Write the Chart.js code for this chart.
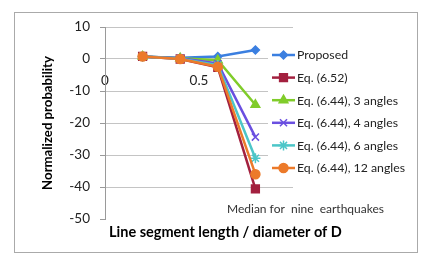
<!DOCTYPE html>
<html>
<head>
<meta charset="utf-8">
<script src="https://cdn.jsdelivr.net/npm/chart.js@4.4.1/dist/chart.umd.min.js"></script>
<style>
  html, body { margin: 0; padding: 0; background: #fff; }
  #wrap { width: 436px; height: 266px; }
</style>
</head>
<body>
<div id="wrap"><canvas id="chart" width="436" height="266"></canvas></div>
<script>
// values
const xValues = [0.2, 0.4, 0.6, 0.8];
const proposed = [0.7, 0.4, 0.8, 2.8];
const eq652 = [0.8, 0.0, -2.6, -40.6];
const eq644_3 = [0.8, 0.2, -0.4, -14.3];
const eq644_4 = [0.8, 0.2, -1.4, -24.4];
const eq644_6 = [0.8, 0.1, -1.9, -31.0];
const eq644_12 = [0.8, 0.0, -2.4, -36.0];

const seriesLabels = ['Proposed', 'Eq. (6.52)', 'Eq. (6.44), 3 angles', 'Eq. (6.44), 4 angles', 'Eq. (6.44), 6 angles', 'Eq. (6.44), 12 angles'];
const seriesValues = [proposed, eq652, eq644_3, eq644_4, eq644_6, eq644_12];
const seriesColors = ['#3b7fe0', '#a3203f', '#80cc2a', '#6a4fe0', '#4cc6c8', '#ec7a2a'];
const seriesMarkers = ['rectRot', 'rect', 'triangle', 'crossRot', 'star', 'circle'];
const markerSizes = [4, 5.5, 5, 5, 5, 4.5];

const xTitle = 'Line segment length / diameter of D';
const yTitle = 'Normalized probability';
const note = 'Median for  nine  earthquakes';
const font = 'Lato, "Open Sans", sans-serif';

const datasets = seriesValues.map((vals, i) => ({
  label: seriesLabels[i],
  data: vals.map((v, j) => ({ x: xValues[j], y: v })),
  borderColor: seriesColors[i],
  backgroundColor: seriesColors[i],
  borderWidth: 2.5,
  pointStyle: seriesMarkers[i],
  pointRadius: markerSizes[i],
  pointBorderWidth: 1.5,
  order: seriesValues.length - i, // last series on top, like the original
  showLine: true,
  tension: 0
}));

// outer frame of the figure
const frame = {
  id: 'frame',
  beforeDraw(chart) {
    const ctx = chart.ctx;
    ctx.save();
    ctx.fillStyle = '#fff';
    ctx.fillRect(0, 0, chart.width, chart.height);
    ctx.strokeStyle = '#aaaaaa';
    ctx.lineWidth = 1;
    ctx.strokeRect(14.5, 12.5, 403, 240);
    ctx.restore();
  }
};

// legend box sitting over the right part of the plot, the note and the x title
// (the x title is wider than the plot, so the scale title would squeeze it)
const legendBox = {
  id: 'legendBox',
  afterDatasetsDraw(chart) {
    const ctx = chart.ctx;
    ctx.save();
    ctx.fillStyle = '#fff';
    ctx.fillRect(268, 40, 146, 141);
    ctx.font = '12.3px ' + font;
    ctx.textBaseline = 'middle';
    chart.data.datasets.forEach((ds, i) => {
      const y = 55 + i * 22.6;
      ctx.strokeStyle = ds.borderColor;
      ctx.fillStyle = ds.backgroundColor;
      ctx.lineWidth = 2.5;
      ctx.beginPath();
      ctx.moveTo(272, y);
      ctx.lineTo(295, y);
      ctx.stroke();
      ctx.lineWidth = 1.5;
      Chart.helpers.drawPoint(ctx, { pointStyle: ds.pointStyle, radius: ds.pointRadius, rotation: 0, borderWidth: 1.5 }, 283.5, y);
      ctx.fillStyle = '#222';
      ctx.fillText(ds.label, 297, y + 0.5);
    });
    ctx.font = '12px ' + font;
    ctx.fillStyle = '#333';
    ctx.fillText(note, 227, 209);
    ctx.font = 'bold 14.5px ' + font;
    ctx.fillStyle = '#000';
    ctx.fillText(xTitle, 109, 232);
    ctx.restore();
  }
};

new Chart(document.getElementById('chart').getContext('2d'), {
  type: 'scatter',
  data: { datasets: datasets },
  options: {
    responsive: false,
    animation: false,
    layout: { padding: { left: 15, top: 27, right: 143, bottom: 47 } },
    plugins: {
      legend: { display: false },
      tooltip: { enabled: false }
    },
    scales: {
      x: {
        type: 'linear',
        position: { y: 0 },
        min: 0,
        max: 1,
        ticks: { stepSize: 0.5, padding: 14, color: '#222', font: { family: font, size: 13.5 } },
        grid: { display: false, drawTicks: false },
        border: { display: false }
      },
      y: {
        min: -50,
        max: 10,
        ticks: { stepSize: 10, padding: 10, color: '#222', font: { family: font, size: 13.5 } },
        grid: {
          color: ctx => (ctx.tick && ctx.tick.value === -50 ? 'rgba(0,0,0,0)' : '#c4c4c4'),
          tickColor: '#9a9a9a',
          tickLength: 5,
          lineWidth: 1
        },
        border: { display: true, color: '#9a9a9a' },
        title: {
          display: true,
          text: yTitle,
          color: '#000',
          font: { family: font, size: 13.2, weight: 'bold' },
          padding: { top: 25, bottom: 0 }
        },
        afterFit(scale) { scale.width = 90; }
      }
    }
  },
  plugins: [frame, legendBox]
});
</script>
</body>
</html>
